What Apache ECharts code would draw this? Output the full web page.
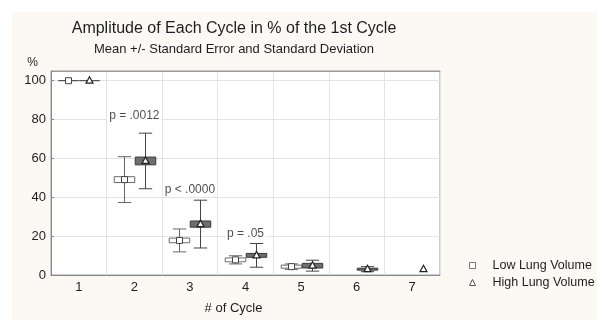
<!DOCTYPE html>
<html><head><meta charset="utf-8">
<script src="https://cdn.jsdelivr.net/npm/echarts@6/dist/echarts.min.js"></script>
<style>html,body{margin:0;padding:0;background:#fff}#c{width:597px;height:320px}</style>
</head><body><div id="c"></div>
<script>
const categories = ['1','2','3','4','5','6','7'];
const lowMean  = [100, 49.1, 17.8, 7.8, 4.3, null, null];
const lowSE    = [0,   1.5,  1.2,  1.0, 0.8, null, null];
const lowSD    = [0,   11.8, 5.9,  2.1, 1.4, null, null];
const highMean = [100, 58.7, 26.2, 10.1, 4.8, 3.0, 3.0];
const highSE   = [0,   2.0,  1.6,  1.0,  1.2, 0.5, null];
const highSD   = [0,   14.3, 12.3, 6.1,  2.8, 1.3, null];
const pCats   = ['2','3','4'];
const pTexts  = ['p = .0012','p < .0000','p = .05'];
const pValues = [82, 44, 21.5];
const yTicks = [0,20,40,60,80,100];

const FONT = '"Liberation Sans", Arial, sans-serif';
const TXT = '#1e1e1e';

function build(mean, se, sd) {
  const out = [];
  for (let i = 0; i < categories.length; i++) {
    if (mean[i] == null) continue;
    out.push([i, mean[i], se[i], sd[i]]);
  }
  return out;
}

function makeRender(sign, kind) {
  return function (params, api) {
    const i = api.value(0), m = api.value(1);
    const se = api.value(2), sd = api.value(3);
    const band = api.size([1, 0])[0];
    const p = api.coord([i, m]);
    const cx = Math.round(p[0] + sign * band * 0.19) + 0.5;
    const ym = p[1];
    const kids = [];
    const lineStyle = { stroke: kind === 'low' ? '#666' : '#444', lineWidth: 1 };
    if (Number.isFinite(sd) && sd > 0) {
      const yt = api.coord([i, m + sd])[1], yb = api.coord([i, m - sd])[1];
      const cw = band * 0.24;
      kids.push({ type: 'line', shape: { x1: cx, y1: yt, x2: cx, y2: yb }, style: lineStyle });
      kids.push({ type: 'line', shape: { x1: cx - cw / 2, y1: yt, x2: cx + cw / 2, y2: yt }, style: lineStyle });
      kids.push({ type: 'line', shape: { x1: cx - cw / 2, y1: yb, x2: cx + cw / 2, y2: yb }, style: lineStyle });
    }
    if (Number.isFinite(se)) {
      const yt = api.coord([i, m + se])[1], yb = api.coord([i, m - se])[1];
      const bw = band * 0.37;
      if (se > 0) {
        kids.push({ type: 'rect', shape: { x: cx - bw / 2, y: yt, width: bw, height: yb - yt },
          style: { fill: kind === 'low' ? '#ffffff' : '#6e6e6e', stroke: kind === 'low' ? '#6a6a6a' : '#3a3a3a', lineWidth: 1 } });
      } else {
        kids.push({ type: 'line', shape: { x1: cx - bw / 2, y1: ym, x2: cx + bw / 2, y2: ym }, style: { stroke: '#333', lineWidth: 1 } });
      }
    }
    if (kind === 'low') {
      kids.push({ type: 'rect', shape: { x: cx - 3, y: ym - 3, width: 6, height: 6 },
        style: { fill: '#fff', stroke: '#444', lineWidth: 1 } });
    } else {
      kids.push({ type: 'polygon', shape: { points: [[cx, ym - 4], [cx - 3.5, ym + 2.5], [cx + 3.5, ym + 2.5]] },
        style: { fill: '#fff', stroke: '#222', lineWidth: 1.2 } });
    }
    return { type: 'group', children: kids };
  };
}

const chart = echarts.init(document.getElementById('c'), null, { renderer: 'canvas' });
chart.setOption({
  animation: false,
  backgroundColor: '#ffffff',
  textStyle: { fontFamily: FONT },
  graphic: [
    { type: 'rect', z: -10, shape: { x: 12, y: 12, width: 600, height: 320 }, style: { fill: '#fcf9f4' }, silent: true },
    { type: 'text', x: 234, y: 29, style: { text: 'Amplitude of Each Cycle in % of the 1st Cycle', font: '16px ' + FONT, fill: TXT, textAlign: 'center', textVerticalAlign: 'middle' } },
    { type: 'text', x: 234, y: 49, style: { text: 'Mean +/- Standard Error and Standard Deviation', font: '13px ' + FONT, fill: TXT, textAlign: 'center', textVerticalAlign: 'middle' } }
  ],
  grid: { left: 51, top: 71, right: 157, bottom: 42, show: true, backgroundColor: '#ffffff', borderColor: '#9a9a9a', borderWidth: 1 },
  legend: {
    orient: 'vertical', left: 469, top: 259, padding: 0, itemWidth: 6, itemHeight: 6, itemGap: 4,
    textStyle: { fontSize: 12.5, color: TXT, fontFamily: FONT, padding: [0, 0, 0, 12] },
    data: [
      { name: 'Low Lung Volume', icon: 'rect', itemStyle: { color: '#fff', borderColor: '#777', borderWidth: 1 } },
      { name: 'High Lung Volume', icon: 'triangle', itemStyle: { color: '#fff', borderColor: '#555', borderWidth: 1 } }
    ]
  },
  xAxis: [{
    type: 'category', data: categories, boundaryGap: true,
    name: '# of Cycle', nameLocation: 'middle', nameGap: 27,
    nameTextStyle: { fontSize: 13, color: TXT, padding: [0, 24, 0, 0], verticalAlign: 'top' },
    axisLine: { lineStyle: { color: '#888' } },
    axisTick: { inside: true, length: 3, lineStyle: { color: '#777' } },
    axisLabel: { fontSize: 13, color: TXT, margin: 6 },
    splitLine: { show: true, lineStyle: { color: '#e3e3e3' } }
  }, {
    type: 'category', data: categories, position: 'top', boundaryGap: true,
    axisLine: { show: true, lineStyle: { color: '#9a9a9a' } },
    axisTick: { inside: true, length: 3, lineStyle: { color: '#777' } },
    axisLabel: { show: false }, splitLine: { show: false }
  }],
  yAxis: {
    type: 'value', min: 0, max: 105, interval: 20,
    name: '%', nameLocation: 'end', nameGap: 8,
    nameTextStyle: { fontSize: 12, color: TXT, align: 'right', verticalAlign: 'middle', padding: [0, 13, 0, 0] },
    axisLine: { show: true, lineStyle: { color: '#888' } },
    axisTick: { show: true, inside: true, length: 3, lineStyle: { color: '#888' } },
    axisLabel: { fontSize: 13, color: TXT, margin: 5, showMaxLabel: false, formatter: v => yTicks.indexOf(v) >= 0 ? String(v) : '' },
    splitLine: { show: true, lineStyle: { color: '#e3e3e3' } }
  },
  series: [
    { type: 'custom', name: 'Low Lung Volume', renderItem: makeRender(-1, 'low'),
      encode: { x: 0, y: 1 }, data: build(lowMean, lowSE, lowSD), z: 3 },
    { type: 'custom', name: 'High Lung Volume', renderItem: makeRender(1, 'high'),
      encode: { x: 0, y: 1 }, data: build(highMean, highSE, highSD), z: 3 },
    { type: 'scatter', name: 'p', symbolSize: 0, z: 2, silent: true,
      data: pCats.map((c, k) => ({ value: [c, pValues[k]], name: pTexts[k] })),
      label: { show: true, position: 'inside', formatter: p => p.name, fontSize: 12, color: TXT,
        backgroundColor: '#ffffff', padding: [1, 2] } }
  ]
});
</script></body></html>
